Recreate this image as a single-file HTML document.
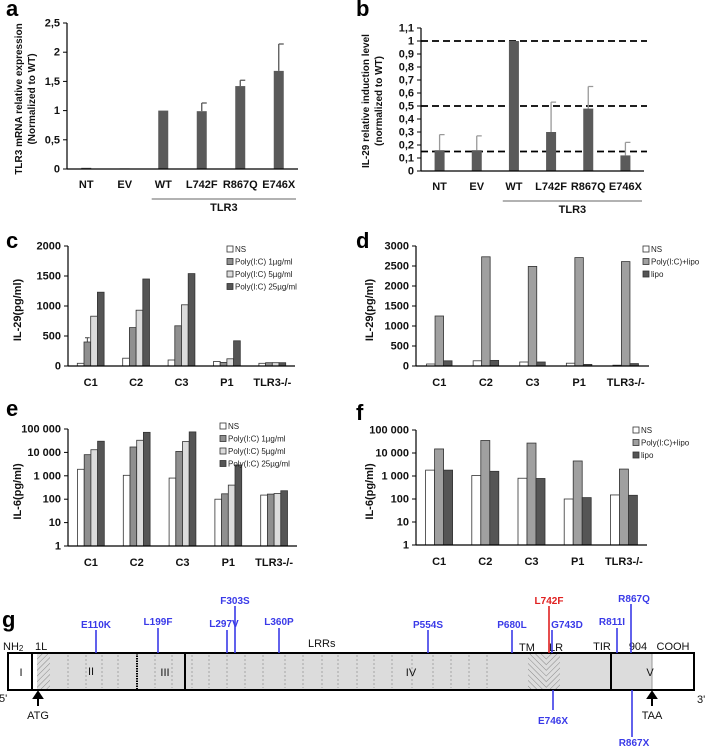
<!DOCTYPE html>
<html><head><meta charset="utf-8"><style>
html,body{margin:0;padding:0;background:#fff;}
svg{display:block;font-family:"Liberation Sans",Arial,sans-serif;}
</style></head><body>
<svg id="fig" width="707" height="746" viewBox="0 0 707 746" xmlns="http://www.w3.org/2000/svg">
<g id="gpanel">
  <text x="2" y="627" font-size="22" font-weight="bold">g</text>
  <defs>
    <pattern id="hatchA" width="4" height="4" patternUnits="userSpaceOnUse" patternTransform="rotate(45)"><rect width="4" height="4" fill="#ddd"/><line x1="0" y1="0" x2="0" y2="4" stroke="#888" stroke-width="1"/></pattern>
    <pattern id="hatchB" width="4" height="4" patternUnits="userSpaceOnUse" patternTransform="rotate(-45)"><rect width="4" height="4" fill="#ddd"/><line x1="0" y1="0" x2="0" y2="4" stroke="#888" stroke-width="1"/></pattern>
  </defs>
  <rect x="8" y="653" width="686" height="37" fill="#fff" stroke="#000" stroke-width="2"/>
  <rect x="50" y="654" width="561" height="35" fill="#dcdcdc"/>
  <rect x="611" y="654" width="41" height="35" fill="#dcdcdc"/>
  <rect x="37" y="654" width="13" height="35" fill="url(#hatchA)"/>
  <rect x="528" y="654" width="18" height="35" fill="url(#hatchB)"/>
  <rect x="546" y="654" width="14" height="35" fill="url(#hatchA)"/>
  <line x1="32" y1="653" x2="32" y2="690" stroke="#000" stroke-width="2"/>
  <line x1="137" y1="653" x2="137" y2="690" stroke="#000" stroke-width="2" stroke-dasharray="1.5,1"/>
  <line x1="185" y1="653" x2="185" y2="690" stroke="#000" stroke-width="2"/>
  <line x1="611" y1="653" x2="611" y2="690" stroke="#000" stroke-width="2"/>
  <line x1="652" y1="654" x2="652" y2="689" stroke="#999" stroke-width="1"/>
  <g id="lrrLines"></g>
  <g font-size="11" fill="#111">
    <text x="21" y="676" text-anchor="middle">I</text>
    <text x="91" y="675" text-anchor="middle">II</text>
    <text x="165" y="676" text-anchor="middle">III</text>
    <text x="411" y="676" text-anchor="middle">IV</text>
    <text x="650" y="676" text-anchor="middle">V</text>
    <text x="3" y="650">NH<tspan font-size="8" dy="1">2</tspan></text>
    <text x="35" y="650">1L</text>
    <text x="308" y="647">LRRs</text>
    <text x="527" y="651" text-anchor="middle">TM</text>
    <text x="556" y="651" text-anchor="middle">LR</text>
    <text x="602" y="650" text-anchor="middle">TIR</text>
    <text x="638" y="650" text-anchor="middle">904</text>
    <text x="673" y="650" text-anchor="middle">COOH</text>
    <text x="-1" y="702">5'</text>
    <text x="697" y="703">3'</text>
    <text x="38" y="719" text-anchor="middle">ATG</text>
    <text x="652" y="719" text-anchor="middle">TAA</text>
  </g>
  <path d="M38 706 L38 697 M34 698 L38 692 L42 698 Z" stroke="#000" stroke-width="2" fill="#000"/>
  <path d="M652 706 L652 697 M648 698 L652 692 L656 698 Z" stroke="#000" stroke-width="2" fill="#000"/>
  <g id="mutations"></g>
</g>
</svg>
<script>
const NS='http://www.w3.org/2000/svg';
const svg=document.getElementById('fig');
// ---- data ----
const aCategories=['NT','EV','WT','L742F','R867Q','E746X'];
const aValues=[0.02,0.01,1.0,0.99,1.42,1.68];
const aErrors=[0,0,0,0.14,0.10,0.46];
const aTickValues=[0,0.5,1,1.5,2,2.5];
const aTickLabels=['0','0,5','1','1,5','2','2,5'];
const bCategories=['NT','EV','WT','L742F','R867Q','E746X'];
const bValues=[0.16,0.16,1.0,0.30,0.48,0.12];
const bErrors=[0.12,0.11,0,0.23,0.17,0.10];
const bRefLines=[1.0,0.5,0.15];
const bTickValues=[0,0.1,0.2,0.3,0.4,0.5,0.6,0.7,0.8,0.9,1,1.1];
const bTickLabels=['0','0,1','0,2','0,3','0,4','0,5','0,6','0,7','0,8','0,9','1','1,1'];
const groups=['C1','C2','C3','P1','TLR3-/-'];
const cNS=[45,130,100,75,45];
const cPoly1=[400,640,670,60,55];
const cPoly5=[830,930,1020,120,55];
const cPoly25=[1230,1450,1540,420,55];
const cErr1=[70,0,0,0,0];
const cTickValues=[0,500,1000,1500,2000];
const cTickLabels=['0','500','1000','1500','2000'];
const dNS=[50,130,100,70,20];
const dPoly=[1250,2730,2490,2710,2610];
const dLipo=[130,140,100,40,60];
const dTickValues=[0,500,1000,1500,2000,2500,3000];
const dTickLabels=['0','500','1000','1500','2000','2500','3000'];
const eNS=[1900,1050,800,100,150];
const ePoly1=[8000,17000,11000,170,165];
const ePoly5=[13000,33000,29000,400,175];
const ePoly25=[30000,72000,75000,2900,230];
const fNS=[1800,1050,800,100,150];
const fPoly=[15000,35000,27000,4500,2000];
const fLipo=[1800,1600,780,115,145];
const logTickValues=[1,10,100,1000,10000,100000];
const logTickLabels=['1','10','100','1 000','10 000','100 000'];
const mutNames=['E110K','L199F','L297V','F303S','L360P','P554S','P680L','L742F','G743D','R811I','R867Q','E746X','R867X'];
const mutResidues=[110,199,297,303,360,554,680,742,743,811,867,746,867];

function mk(tag,attrs,parent){const e=document.createElementNS(NS,tag);for(const k in attrs)e.setAttribute(k,attrs[k]);(parent||svg).appendChild(e);return e;}
function txt(s,attrs,parent){const e=mk('text',attrs,parent);e.textContent=s;return e;}

function linY(y0,y1,max){return v=>y0-(v/max)*(y0-y1);}
function logY(y0,y1){return v=>y0-(Math.log10(v)/5)*(y0-y1);}

function axes(g,ax,x1,y0,yTop,ticks,labels,scale,fs){
  const yl=mk('line',{x1:ax,y1:yTop,x2:ax,y2:y0,stroke:'#000','stroke-width':1.2},g);
  
  
  const xl=mk('line',{x1:ax,y1:y0,x2:x1,y2:y0,stroke:'#000','stroke-width':1.2},g);
  
  
  ticks.forEach((t,i)=>{
    const y=scale(t);
    const tk=mk('line',{x1:ax-4,y1:y,x2:ax,y2:y,stroke:'#000','stroke-width':1},g);
    
    
    const tl=txt(labels[i],{x:ax-7,y:y+3.5,'font-size':fs,'font-weight':'bold','text-anchor':'end',fill:'#111'},g);
    
    
  });
}
function ytitle(g,lines,x,y,fs){
  lines.forEach((s,i)=>{
    const t=txt(s,{x:0,y:0,'font-size':fs,'font-weight':'bold','text-anchor':'middle',fill:'#111',transform:`translate(${x+i*(fs+3)},${y}) rotate(-90)`},g);
    
    
  });
}
function panelLabel(s,x,y){const t=txt(s,{x:x,y:y,'font-size':22,'font-weight':'bold'});}

// ---- a & b ----
function catChart(name,ax,x1,y0,yTop,max,cats,vals,errs,ticks,labels,title,titleX,errColor,refs){
  const g=mk('g',{});
  
  
  const sy=linY(y0,yTop,max);
  const step=(x1-ax)/cats.length;
  if(refs){refs.forEach(r=>{const l=mk('line',{x1:ax,y1:sy(r),x2:x1+3,y2:sy(r),stroke:'#000','stroke-width':1.8,'stroke-dasharray':'7,4'},g);
    
    });}
  cats.forEach((c,i)=>{
    const cx=ax+(i+0.5)*step;const y=sy(vals[i]);
    if(errs[i]>0){const ey=sy(vals[i]+errs[i]);
      const e=mk('path',{d:`M${cx} ${y} L${cx} ${ey} M${cx} ${ey} L${cx+5} ${ey}`,stroke:errColor,'stroke-width':1.3,fill:'none'},g);
      
      }
    const r=mk('rect',{x:cx-5,y:y,width:10,height:Math.max(y0-y,1),fill:'#5a5a5a'},g);
    
    
    const t=txt(c,{x:cx,y:y0+19,'font-size':11,'font-weight':'bold','text-anchor':'middle',fill:'#111'},g);
    
    
  });
  axes(g,ax,x1,y0,yTop,ticks,labels,sy,11);
  const bx0=ax+2.2*step, bx1=x1-2;
  const bl=mk('line',{x1:bx0,y1:y0+30,x2:bx1,y2:y0+30,stroke:'#666','stroke-width':1},g);
  
  
  const bt=txt('TLR3',{x:(bx0+bx1)/2,y:y0+42,'font-size':11,'font-weight':'bold','text-anchor':'middle',fill:'#111'},g);
  
  
  ytitle(g,title,titleX,y0-70,10);
}
panelLabel('a',6,16);
catChart('chart-a',67,298,169,23,2.5,aCategories,aValues,aErrors,aTickValues,aTickLabels,['TLR3 mRNA  relative expression','(Normalized to WT)'],22,'#555',null);
panelLabel('b',356,16);
catChart('chart-b',421,644,171,28,1.1,bCategories,bValues,bErrors,bTickValues,bTickLabels,['IL-29 relative induction level','(normalized to WT)'],369,'#999',bRefLines);

// ---- grouped charts ----
const fillColors={ns:'#ffffff',poly1:'#8f8f8f',poly5:'#dcdcdc',poly25:'#555555',poly:'#a0a0a0',lipo:'#555555'};
function groupChart(name,ax,x1,y0,yTop,scale,series,keys,bw,ticks,labels,title,titleX,legendX,legendY,legendLabels,errs){
  const g=mk('g',{});
  
  
  const step=(x1-ax)/groups.length;
  groups.forEach((gr,i)=>{
    const cx=ax+(i+0.5)*step;const start=cx-bw*series.length/2;
    series.forEach((s,j)=>{
      const x=start+j*bw;const y=scale(s[i]);
      if(errs&&errs[j]&&errs[j][i]>0){const ey=scale(s[i]+errs[j][i]);
        const e=mk('path',{d:`M${x+bw/2} ${y} L${x+bw/2} ${ey} M${x+1} ${ey} L${x+bw-1} ${ey}`,stroke:'#444','stroke-width':1,fill:'none'},g);
        
        }
      const r=mk('rect',{x:x,y:y,width:bw,height:Math.max(y0-y,0.5),fill:fillColors[keys[j]],stroke:'#333','stroke-width':0.8},g);
      
      
    });
    const t=txt(gr,{x:cx,y:y0+20,'font-size':11,'font-weight':'bold','text-anchor':'middle',fill:'#111'},g);
    
    
  });
  axes(g,ax,x1,y0,yTop,ticks,labels,scale,11);
  ytitle(g,[title],titleX,(y0+yTop)/2+4,11);
  legendLabels.forEach((l,j)=>{
    const yy=legendY+j*12.5;
    const sw=mk('rect',{x:legendX,y:yy-6,width:6,height:6,fill:fillColors[keys[j]],stroke:'#333','stroke-width':0.8},g);
    
    
    const lt=txt(l,{x:legendX+8,y:yy,'font-size':8,fill:'#222'},g);
    
    
  });
}
panelLabel('c',6,248);
groupChart('chart-c',68,295,366,246,linY(366,246,2000),[cNS,cPoly1,cPoly5,cPoly25],['ns','poly1','poly5','poly25'],6.7,cTickValues,cTickLabels,'IL-29(pg/ml)',21,227,252,['NS','Poly(I:C)  1µg/ml','Poly(I:C)  5µg/ml','Poly(I:C)  25µg/ml'],[null,cErr1,null,null]);
panelLabel('d',356,248);
groupChart('chart-d',416,649,366,246,linY(366,246,3000),[dNS,dPoly,dLipo],['ns','poly','lipo'],8.5,dTickValues,dTickLabels,'IL-29(pg/ml)',373,643,252,['NS','Poly(I:C)+lipo','lipo'],null);
panelLabel('e',6,416);
groupChart('chart-e',68,297,546,429,logY(546,429),[eNS,ePoly1,ePoly5,ePoly25],['ns','poly1','poly5','poly25'],6.7,logTickValues,logTickLabels,'IL-6(pg/ml)',21,220,429,['NS','Poly(I:C) 1µg/ml','Poly(I:C) 5µg/ml','Poly(I:C) 25µg/ml'],null);
panelLabel('f',356,420);
groupChart('chart-f',416,647,545,430,logY(545,430),[fNS,fPoly,fLipo],['ns','poly','lipo'],9,logTickValues,logTickLabels,'IL-6(pg/ml)',373,633,433,['NS','Poly(I:C)+lipo','lipo'],null);

// ---- g panel dividers and mutations ----
const lrrG=document.getElementById('lrrLines');
[68,86,102,118,155,172,192,209,227,245,263,285,303,322,338,357,374,392,412,433,451,469,487].forEach(x=>{
  const l=mk('line',{x1:x,y1:655,x2:x,y2:688,stroke:'#999','stroke-width':0.8,'stroke-dasharray':'2,2'},lrrG);
  
  
});
const mutG=document.getElementById('mutations');
const mutX=[96,158,227,235,279,428,512,549,552,617,631,553,632];
const mutLabelX=[96,158,224,235,279,428,512,549,567,612,634,553,634];
const mutLabelY=[628,625,627,604,625,628,628,604,628,625,602,724,746];
const mutLineEnd=[630,628,630,606,628,630,630,606,630,628,604,710,737];
mutNames.forEach((m,i)=>{
  const below=i>=11;const red=m==='L742F';
  const col=red?'#e02020':'#3a3ae8';
  const l=mk('line',{x1:mutX[i],y1:below?690:653,x2:mutX[i],y2:mutLineEnd[i],stroke:col,'stroke-width':1.6},mutG);
  
  
  const t=txt(m,{x:mutLabelX[i],y:mutLabelY[i],'font-size':10,'font-weight':'bold','text-anchor':'middle',fill:col},mutG);
  
  
});
</script>
</body></html>
